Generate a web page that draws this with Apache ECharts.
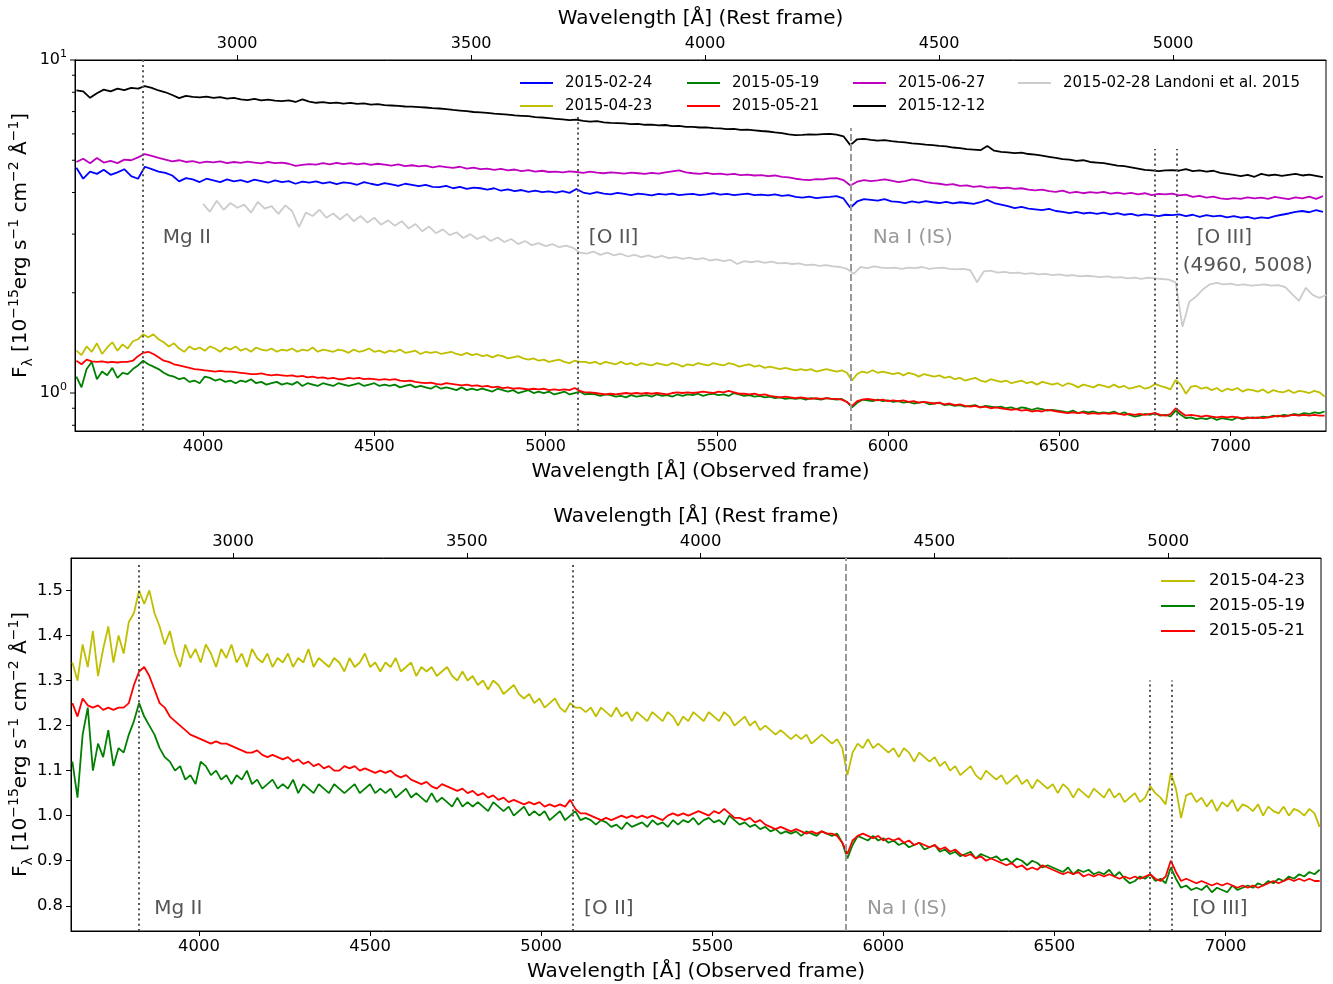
<!DOCTYPE html>
<html><head><meta charset="utf-8">
<script src="https://cdn.jsdelivr.net/npm/echarts@6/dist/echarts.min.js"></script>
<style>html,body{margin:0;padding:0;background:#fff}#c{width:1333px;height:984px}</style>
</head><body><div id="c"></div>
<script>
// ---------------- data ----------------
const redshift = 0.3665;
const obsMin = 3626, obsMax = 7279;
const obsTicks = [4000, 4500, 5000, 5500, 6000, 6500, 7000];
const restTicks = [3000, 3500, 4000, 4500, 5000];
const topFluxMin = 0.769, topFluxMax = 10;
const logMajorTicks = [1, 10];
const logMinorTicks = [0.8, 0.9, 2, 3, 4, 5, 6, 7, 8, 9];
const zoomFluxMin = 0.744, zoomFluxMax = 1.572;
const zoomFluxTicks = [0.8, 0.9, 1.0, 1.1, 1.2, 1.3, 1.4, 1.5];
const lineRest = { mg2: 2798, o2: 3727, o3a: 4960, o3b: 5008 };
const naIS = 5890;

const seriesNames = ['2015-02-24', '2015-04-23', '2015-05-19', '2015-05-21', '2015-06-27', '2015-12-12', '2015-02-28 Landoni et al. 2015'];

// wavelength sampling (Angstrom, observed frame)
const fineStart = 3630, fineStep = 15;      // 2015-04-23, 2015-05-19, 2015-05-21
const coarseStart = 3630, coarseStep = 20;  // 2015-02-24, 2015-06-27, 2015-12-12
const landoniStart = 4000, landoniStep = 20;

const flux0423 = [
 1.34,1.30,1.38,1.33,1.41,1.31,1.37,1.42,1.34,1.40,
 1.36,1.43,1.45,1.50,1.47,1.50,1.45,1.42,1.38,1.41,
 1.36,1.33,1.38,1.35,1.37,1.34,1.38,1.36,1.33,1.37,
 1.35,1.38,1.34,1.36,1.33,1.37,1.35,1.34,1.36,1.33,
 1.35,1.34,1.36,1.33,1.35,1.34,1.37,1.33,1.35,1.34,
 1.33,1.35,1.34,1.32,1.35,1.33,1.34,1.36,1.33,1.34,
 1.32,1.34,1.33,1.35,1.32,1.33,1.34,1.31,1.33,1.32,
 1.33,1.31,1.32,1.33,1.31,1.30,1.32,1.30,1.31,1.29,
 1.30,1.28,1.30,1.29,1.27,1.28,1.29,1.27,1.26,1.27,
 1.25,1.26,1.24,1.25,1.26,1.24,1.23,1.25,1.24,1.24,
 1.23,1.24,1.22,1.24,1.23,1.22,1.24,1.22,1.23,1.21,
 1.23,1.22,1.21,1.23,1.22,1.21,1.23,1.22,1.20,1.22,
 1.21,1.23,1.22,1.21,1.23,1.22,1.21,1.23,1.22,1.20,
 1.21,1.22,1.20,1.21,1.19,1.20,1.19,1.18,1.19,1.18,
 1.17,1.18,1.17,1.18,1.16,1.17,1.18,1.17,1.16,1.17,
 1.15,1.09,1.14,1.16,1.15,1.17,1.15,1.16,1.15,1.14,
 1.15,1.13,1.15,1.14,1.12,1.14,1.13,1.12,1.13,1.11,
 1.12,1.10,1.11,1.09,1.10,1.11,1.09,1.08,1.10,1.09,
 1.08,1.09,1.07,1.08,1.09,1.07,1.08,1.06,1.08,1.07,
 1.06,1.07,1.05,1.07,1.06,1.04,1.06,1.05,1.04,1.06,
 1.05,1.04,1.06,1.04,1.05,1.03,1.04,1.05,1.03,1.04,
 1.065,1.05,1.04,1.025,1.095,1.06,0.995,1.045,1.05,1.03,
 1.04,1.02,1.035,1.01,1.03,1.02,1.035,1.01,1.025,1.02,
 1.01,1.025,1.00,1.02,1.01,1.005,1.02,1.00,1.015,1.01,
 1.00,1.015,1.005,0.975];

const flux0519 = [
 1.12,1.04,1.18,1.24,1.10,1.16,1.13,1.19,1.11,1.15,
 1.14,1.18,1.21,1.25,1.22,1.20,1.18,1.15,1.13,1.12,
 1.10,1.11,1.08,1.09,1.07,1.12,1.11,1.09,1.10,1.08,
 1.09,1.07,1.09,1.08,1.10,1.07,1.08,1.06,1.07,1.08,
 1.06,1.07,1.06,1.08,1.05,1.07,1.06,1.05,1.07,1.06,
 1.05,1.07,1.06,1.05,1.06,1.07,1.05,1.06,1.07,1.05,
 1.06,1.05,1.06,1.04,1.05,1.06,1.04,1.05,1.04,1.03,
 1.05,1.03,1.04,1.03,1.02,1.04,1.02,1.03,1.02,1.03,
 1.02,1.01,1.03,1.02,1.01,1.02,1.00,1.01,1.02,1.00,
 1.01,1.00,1.01,0.99,1.00,1.01,0.99,1.00,1.01,0.99,
 0.995,0.99,0.98,0.99,0.985,0.975,0.98,0.97,0.985,0.975,
 0.98,0.985,0.975,0.99,0.98,0.985,0.975,0.99,0.98,0.99,
 0.985,0.995,0.98,0.99,0.995,0.985,0.99,0.98,1.00,0.99,
 0.98,0.985,0.975,0.98,0.97,0.975,0.965,0.97,0.96,0.965,
 0.96,0.965,0.955,0.965,0.96,0.955,0.965,0.96,0.955,0.96,
 0.94,0.905,0.935,0.955,0.95,0.945,0.955,0.945,0.95,0.94,
 0.945,0.935,0.94,0.93,0.935,0.94,0.925,0.93,0.935,0.92,
 0.925,0.915,0.92,0.91,0.915,0.92,0.905,0.915,0.91,0.905,
 0.91,0.90,0.905,0.895,0.905,0.90,0.89,0.90,0.895,0.885,
 0.89,0.885,0.88,0.875,0.885,0.87,0.88,0.875,0.88,0.87,
 0.875,0.87,0.88,0.865,0.875,0.86,0.85,0.855,0.865,0.86,
 0.87,0.855,0.86,0.85,0.885,0.86,0.84,0.845,0.835,0.84,
 0.835,0.845,0.83,0.84,0.835,0.83,0.845,0.835,0.84,0.845,
 0.84,0.85,0.845,0.855,0.85,0.86,0.855,0.865,0.86,0.87,
 0.865,0.875,0.87,0.88];

const flux0521 = [
 1.25,1.22,1.26,1.245,1.24,1.245,1.235,1.24,1.235,1.24,
 1.24,1.25,1.29,1.32,1.33,1.31,1.28,1.25,1.24,1.22,
 1.21,1.20,1.19,1.18,1.175,1.17,1.165,1.16,1.165,1.16,
 1.16,1.155,1.15,1.145,1.14,1.14,1.145,1.135,1.13,1.135,
 1.13,1.125,1.13,1.12,1.125,1.115,1.12,1.11,1.115,1.105,
 1.11,1.10,1.10,1.11,1.105,1.11,1.10,1.105,1.10,1.095,
 1.10,1.095,1.10,1.09,1.085,1.09,1.08,1.075,1.07,1.075,
 1.065,1.06,1.07,1.065,1.06,1.055,1.06,1.05,1.055,1.045,
 1.05,1.04,1.045,1.035,1.04,1.03,1.035,1.03,1.025,1.03,
 1.025,1.03,1.02,1.025,1.02,1.025,1.02,1.035,1.015,1.005,
 1.005,1.00,0.995,0.99,0.995,0.99,0.995,1.00,0.995,1.00,
 0.995,1.00,0.995,1.00,0.995,0.99,1.00,1.005,1.00,1.005,
 1.00,1.005,1.01,1.005,1.00,1.01,1.005,1.015,1.005,0.995,
 0.995,0.99,0.995,0.985,0.99,0.98,0.975,0.97,0.975,0.97,
 0.965,0.97,0.965,0.96,0.965,0.96,0.965,0.96,0.96,0.955,
 0.94,0.915,0.945,0.955,0.96,0.955,0.95,0.955,0.945,0.95,
 0.945,0.95,0.94,0.945,0.935,0.94,0.935,0.93,0.935,0.925,
 0.93,0.92,0.925,0.915,0.91,0.915,0.905,0.91,0.90,0.905,
 0.90,0.895,0.89,0.895,0.885,0.89,0.88,0.885,0.88,0.89,
 0.885,0.88,0.875,0.87,0.875,0.87,0.875,0.865,0.87,0.865,
 0.87,0.865,0.87,0.865,0.86,0.865,0.86,0.865,0.86,0.865,
 0.87,0.86,0.855,0.865,0.90,0.875,0.855,0.86,0.855,0.85,
 0.855,0.85,0.845,0.85,0.845,0.85,0.845,0.84,0.845,0.84,
 0.845,0.84,0.845,0.85,0.855,0.85,0.855,0.86,0.855,0.86,
 0.855,0.86,0.855,0.855];

const flux0224 = [
 4.75,4.40,4.62,4.55,4.68,4.52,4.60,4.70,4.48,4.40,
 4.78,4.70,4.62,4.58,4.50,4.32,4.42,4.38,4.30,4.40,
 4.35,4.30,4.38,4.32,4.36,4.30,4.37,4.33,4.28,4.35,
 4.30,4.33,4.25,4.31,4.28,4.32,4.26,4.30,4.24,4.29,
 4.27,4.22,4.30,4.25,4.21,4.27,4.23,4.19,4.25,4.22,
 4.18,4.22,4.16,4.15,4.19,4.12,4.16,4.10,4.14,4.12,
 4.08,4.12,4.05,4.09,4.04,4.07,4.02,4.05,4.01,4.03,
 4.00,4.04,3.99,4.10,4.00,3.96,4.01,3.97,3.95,3.99,
 3.96,3.93,3.97,3.95,3.92,3.96,3.94,3.97,3.93,3.95,
 3.96,3.93,3.95,3.98,3.94,3.96,3.93,3.95,3.97,3.93,
 3.94,3.92,3.95,3.91,3.93,3.88,3.86,3.89,3.85,3.87,
 3.88,3.90,3.84,3.60,3.76,3.82,3.80,3.78,3.82,3.76,
 3.75,3.72,3.76,3.73,3.77,3.74,3.72,3.75,3.71,3.74,
 3.72,3.70,3.74,3.80,3.72,3.68,3.64,3.59,3.62,3.58,
 3.56,3.54,3.57,3.52,3.50,3.47,3.50,3.46,3.48,3.45,
 3.48,3.44,3.47,3.43,3.45,3.41,3.44,3.42,3.40,3.43,
 3.42,3.44,3.40,3.43,3.38,3.42,3.39,3.41,3.37,3.40,
 3.36,3.38,3.34,3.37,3.35,3.40,3.43,3.46,3.50,3.52,
 3.49,3.54,3.50];

const flux0627 = [
 4.94,5.05,4.90,5.08,4.92,4.98,4.90,5.02,5.00,5.10,
 5.22,5.15,5.08,5.02,4.96,5.00,4.94,4.97,4.91,4.95,
 4.93,4.96,4.90,4.94,4.91,4.95,4.92,4.89,4.94,4.90,
 4.92,4.88,4.81,4.84,4.87,4.85,4.90,4.86,4.91,4.87,
 4.90,4.86,4.89,4.84,4.88,4.85,4.82,4.86,4.80,4.83,
 4.79,4.82,4.76,4.80,4.77,4.74,4.78,4.72,4.75,4.70,
 4.72,4.68,4.71,4.66,4.69,4.64,4.67,4.62,4.65,4.61,
 4.62,4.60,4.63,4.61,4.58,4.62,4.59,4.57,4.60,4.58,
 4.56,4.59,4.57,4.55,4.58,4.56,4.60,4.63,4.66,4.60,
 4.57,4.55,4.58,4.54,4.56,4.53,4.55,4.51,4.53,4.50,
 4.51,4.48,4.50,4.46,4.44,4.40,4.37,4.36,4.39,4.38,
 4.41,4.42,4.36,4.20,4.31,4.36,4.33,4.35,4.38,4.34,
 4.30,4.33,4.38,4.35,4.30,4.27,4.25,4.22,4.24,4.19,
 4.20,4.16,4.18,4.14,4.15,4.12,4.14,4.10,4.12,4.08,
 4.06,4.08,4.04,4.02,4.05,3.99,4.02,3.98,4.01,3.99,
 4.02,3.97,4.00,3.96,3.99,3.95,3.98,3.93,3.96,3.95,
 3.97,3.92,3.94,3.88,3.91,3.86,3.89,3.84,3.82,3.85,
 3.83,3.87,3.84,3.86,3.83,3.88,3.85,3.82,3.87,3.84,
 3.89,3.83,3.90];

const flux1212 = [
 8.10,8.05,7.70,7.95,8.15,8.05,8.20,8.12,8.25,8.20,
 8.35,8.25,8.10,8.00,7.85,7.68,7.80,7.75,7.72,7.76,
 7.70,7.74,7.66,7.70,7.62,7.58,7.64,7.56,7.60,7.55,
 7.52,7.56,7.48,7.62,7.50,7.44,7.47,7.42,7.45,7.40,
 7.43,7.38,7.41,7.35,7.37,7.32,7.30,7.28,7.25,7.24,
 7.22,7.20,7.17,7.15,7.12,7.08,7.05,7.02,6.98,6.96,
 6.94,6.90,6.88,6.85,6.82,6.80,6.78,6.74,6.72,6.69,
 6.66,6.63,6.60,6.62,6.56,6.53,6.55,6.50,6.47,6.46,
 6.45,6.42,6.43,6.39,6.40,6.36,6.38,6.33,6.34,6.30,
 6.30,6.27,6.28,6.24,6.23,6.20,6.21,6.17,6.18,6.15,
 6.12,6.10,6.06,6.03,5.98,5.95,5.96,5.98,5.97,5.99,
 6.00,5.97,5.90,5.55,5.78,5.80,5.76,5.73,5.75,5.71,
 5.68,5.66,5.62,5.60,5.57,5.55,5.52,5.50,5.46,5.44,
 5.40,5.38,5.36,5.52,5.34,5.30,5.28,5.25,5.27,5.22,
 5.20,5.16,5.12,5.08,5.04,5.02,4.98,5.00,4.94,4.92,
 4.90,4.86,4.82,4.80,4.76,4.72,4.68,4.66,4.64,4.66,
 4.67,4.65,4.70,4.64,4.66,4.62,4.65,4.58,4.55,4.52,
 4.48,4.52,4.46,4.55,4.50,4.53,4.49,4.52,4.55,4.50,
 4.53,4.49,4.45];

const fluxLandoni = [
 3.70,3.50,3.78,3.55,3.72,3.60,3.68,3.48,3.75,3.58,
 3.64,3.45,3.66,3.52,3.15,3.48,3.40,3.55,3.36,3.46,
 3.32,3.45,3.28,3.40,3.25,3.36,3.20,3.30,3.18,3.28,
 3.12,3.22,3.06,3.16,3.02,3.10,2.98,3.04,2.92,3.00,
 2.90,2.96,2.86,2.93,2.84,2.90,2.80,2.86,2.78,2.82,
 2.76,2.80,2.74,2.77,2.73,2.64,2.62,2.66,2.60,2.64,
 2.59,2.62,2.57,2.60,2.56,2.59,2.55,2.58,2.54,2.56,
 2.53,2.55,2.52,2.54,2.50,2.52,2.49,2.51,2.44,2.49,
 2.47,2.49,2.46,2.48,2.45,2.46,2.44,2.45,2.42,2.43,
 2.41,2.42,2.40,2.39,2.36,2.28,2.39,2.37,2.40,2.38,
 2.37,2.38,2.36,2.38,2.37,2.39,2.36,2.37,2.38,2.36,
 2.35,2.36,2.34,2.15,2.32,2.33,2.30,2.31,2.29,2.30,
 2.28,2.29,2.27,2.28,2.26,2.27,2.25,2.26,2.24,2.25,
 2.24,2.23,2.24,2.22,2.23,2.21,2.22,2.20,2.22,2.21,
 2.20,2.19,2.15,1.58,1.88,1.95,2.05,2.12,2.14,2.12,
 2.13,2.11,2.12,2.10,2.11,2.12,2.10,2.11,2.08,1.98,
 1.89,2.07,1.97,1.93,1.97];

// ---------------- chart ----------------
const FONT = "'DejaVu Sans', sans-serif";
const colors = ['#0000ff', '#bfbf00', '#008000', '#ff0000', '#bf00bf', '#000000', '#cccccc'];
const zf = 1 + redshift;
const pairs = (start, step, arr) => arr.map((v, i) => [start + i * step, v]);

function spec(nameIdx, start, step, arr, xi, yi) {
  return {
    type: 'line', name: seriesNames[nameIdx], xAxisIndex: xi, yAxisIndex: yi,
    data: pairs(start, step, arr), showSymbol: false, symbol: 'none',
    color: colors[nameIdx], lineStyle: { width: 1.8, color: colors[nameIdx] },
    animation: false, silent: true, clip: true
  };
}

const dotStyle = { color: '#555', width: 2, type: [2, 3.2] };
const dashStyle = { color: '#999', width: 2, type: [7, 3] };
const darkText = '#555', lightText = '#999';

function markerSeries(xi, yi, yBottom, segs, labels) {
  return {
    type: 'line', xAxisIndex: xi, yAxisIndex: yi, data: [], silent: true, animation: false,
    markLine: {
      symbol: ['none', 'none'], silent: true, animation: false, label: { show: false },
      data: segs.map(s => [{ coord: [s.x, yBottom], lineStyle: s.style }, { coord: [s.x, s.top] }])
    },
    markPoint: {
      symbol: 'circle', symbolSize: 1, itemStyle: { color: 'rgba(0,0,0,0)' }, silent: true, animation: false,
      label: { show: true, position: 'right', distance: 0, fontSize: 20, fontFamily: FONT, formatter: p => p.name },
      data: labels.map(l => ({ name: l.text, coord: [l.x, l.y], label: { color: l.color } }))
    }
  };
}

const allLogTicks = logMajorTicks.concat(logMinorTicks);
const tickSeries = {
  type: 'custom', xAxisIndex: 0, yAxisIndex: 0, silent: true, animation: false, clip: false,
  data: allLogTicks.map(v => [obsMin, v]),
  renderItem: (params, api) => {
    const v = api.value(1);
    const p = api.coord([api.value(0), v]);
    const len = logMajorTicks.indexOf(v) >= 0 ? 5 : 3;
    return { type: 'line', shape: { x1: p[0], y1: p[1], x2: p[0] - len, y2: p[1] }, style: { stroke: '#000', lineWidth: 1 } };
  }
};

const obsX = l => l * zf;

const axisCommon = {
  axisLine: { show: true, lineStyle: { color: '#000', width: 1 } },
  splitLine: { show: false },
  nameMoveOverlap: false,
  nameTextStyle: { fontSize: 20, fontFamily: FONT, color: '#000' }
};

function obsAxis(grid, fs) {
  return Object.assign({}, axisCommon, {
    type: 'value', gridIndex: grid, position: 'bottom', min: obsMin, max: obsMax,
    name: 'Wavelength [Å] (Observed frame)', nameLocation: 'middle', nameGap: 31,
    axisTick: { show: true, length: 5, customValues: obsTicks, lineStyle: { color: '#000' } },
    axisLabel: { customValues: obsTicks, formatter: v => String(v), fontSize: fs, fontFamily: FONT, color: '#000', margin: 8 }
  });
}
function restAxis(grid, fs) {
  return Object.assign({}, axisCommon, {
    type: 'value', gridIndex: grid, position: 'top', min: obsMin / zf, max: obsMax / zf,
    name: 'Wavelength [Å] (Rest frame)', nameLocation: 'middle', nameGap: 31,
    axisTick: { show: true, length: 5, customValues: restTicks, lineStyle: { color: '#000' } },
    axisLabel: { customValues: restTicks, formatter: v => String(v), fontSize: fs, fontFamily: FONT, color: '#000', margin: 8 }
  });
}

const yName = '{m|F}{sub|λ}{m| [10}{sup|−15}{m|erg s}{sup|−1}{m| cm}{sup|−2}{m| Å}{sup|−1}{m|]}';
const yNameRich = {
  m: { fontSize: 20, lineHeight: 28, fontFamily: FONT, color: '#000' },
  sup: { fontSize: 14, lineHeight: 14, verticalAlign: 'top', fontFamily: FONT, color: '#000' },
  sub: { fontSize: 14, lineHeight: 14, verticalAlign: 'bottom', fontFamily: FONT, color: '#000' }
};

function legendCol(left, top, names, fs, iw, pad, lh) {
  return {
    orient: 'vertical', left: left, top: top, itemWidth: iw, itemHeight: 2, icon: 'rect', itemGap: 5,
    padding: 0,
    textStyle: { fontSize: fs, fontFamily: FONT, color: '#000', lineHeight: lh, padding: [0, 0, 0, pad] },
    data: names, selectedMode: false
  };
}

const option = {
  animation: false,
  backgroundColor: '#fff',
  grid: [
    { left: 75, top: 60, width: 1251, height: 371, show: true, borderColor: '#000', borderWidth: 1, backgroundColor: 'transparent', containLabel: false, outerBoundsMode: 'none' },
    { left: 71, top: 558, width: 1250, height: 373, show: true, borderColor: '#000', borderWidth: 1, backgroundColor: 'transparent', containLabel: false, outerBoundsMode: 'none' }
  ],
  xAxis: [obsAxis(0, 16), restAxis(0, 16), obsAxis(1, 16.4), restAxis(1, 16.4)],
  yAxis: [
    Object.assign({}, axisCommon, {
      type: 'log', logBase: 10, gridIndex: 0, min: topFluxMin, max: topFluxMax,
      name: yName, nameLocation: 'middle', nameGap: 40, nameTextStyle: { rich: yNameRich },
      axisTick: { show: false }, minorTick: { show: false },
      axisLabel: {
        margin: 8, fontFamily: FONT, color: '#000',
        formatter: v => { const e = Math.log10(v); if (Math.abs(e - Math.round(e)) > 1e-6) return ''; return '{b|10}{s|' + Math.round(e) + '}'; },
        rich: { b: { fontSize: 16, lineHeight: 22, fontFamily: FONT, color: '#000' }, s: { fontSize: 11, lineHeight: 11, verticalAlign: 'top', fontFamily: FONT, color: '#000' } }
      }
    }),
    Object.assign({}, axisCommon, {
      type: 'value', gridIndex: 1, min: zoomFluxMin, max: zoomFluxMax,
      name: yName, nameLocation: 'middle', nameGap: 36, nameTextStyle: { rich: yNameRich },
      axisTick: { show: true, length: 5, customValues: zoomFluxTicks, lineStyle: { color: '#000' } },
      axisLabel: { customValues: zoomFluxTicks, formatter: v => v.toFixed(1), fontSize: 16.4, fontFamily: FONT, color: '#000', margin: 8 }
    })
  ],
  legend: [
    legendCol(520, 74, [seriesNames[0], seriesNames[1]], 15, 33, 7, 18),
    legendCol(687, 74, [seriesNames[2], seriesNames[3]], 15, 33, 7, 18),
    legendCol(853, 74, [seriesNames[4], seriesNames[5]], 15, 33, 7, 18),
    legendCol(1018, 74, [seriesNames[6]], 15, 33, 7, 18),
    legendCol(1161, 571, [seriesNames[1], seriesNames[2], seriesNames[3]], 16.5, 34, 9, 20)
  ],
  series: [
    spec(0, coarseStart, coarseStep, flux0224, 0, 0),
    spec(1, fineStart, fineStep, flux0423, 0, 0),
    spec(2, fineStart, fineStep, flux0519, 0, 0),
    spec(3, fineStart, fineStep, flux0521, 0, 0),
    spec(4, coarseStart, coarseStep, flux0627, 0, 0),
    spec(5, coarseStart, coarseStep, flux1212, 0, 0),
    spec(6, landoniStart, landoniStep, fluxLandoni, 0, 0),
    spec(1, fineStart, fineStep, flux0423, 2, 1),
    spec(2, fineStart, fineStep, flux0519, 2, 1),
    spec(3, fineStart, fineStep, flux0521, 2, 1),
    markerSeries(0, 0, topFluxMin, [
      { x: obsX(lineRest.mg2), top: topFluxMax, style: dotStyle },
      { x: obsX(lineRest.o2), top: 6.8, style: dotStyle },
      { x: naIS, top: 6.25, style: dashStyle },
      { x: obsX(lineRest.o3a), top: 5.4, style: dotStyle },
      { x: obsX(lineRest.o3b), top: 5.4, style: dotStyle }
    ], [
      { text: 'Mg II', x: 3881, y: 2.92, color: darkText },
      { text: '[O II]', x: 5125, y: 2.92, color: darkText },
      { text: 'Na I (IS)', x: 5954, y: 2.92, color: lightText },
      { text: '[O III]', x: 6900, y: 2.92, color: darkText },
      { text: '(4960, 5008)', x: 6859, y: 2.41, color: darkText }
    ]),
    markerSeries(2, 1, zoomFluxMin, [
      { x: obsX(lineRest.mg2), top: 1.563, style: dotStyle },
      { x: obsX(lineRest.o2), top: 1.563, style: dotStyle },
      { x: naIS, top: zoomFluxMax, style: dashStyle },
      { x: obsX(lineRest.o3a), top: 1.30, style: dotStyle },
      { x: obsX(lineRest.o3b), top: 1.30, style: dotStyle }
    ], [
      { text: 'Mg II', x: 3868, y: 0.793, color: darkText },
      { text: '[O II]', x: 5124, y: 0.793, color: darkText },
      { text: 'Na I (IS)', x: 5951, y: 0.793, color: lightText },
      { text: '[O III]', x: 6901, y: 0.793, color: darkText }
    ]),
    tickSeries
  ]
};

const chart = echarts.init(document.getElementById('c'), null, { renderer: 'canvas' });
chart.setOption(option);
</script>
</body></html>
